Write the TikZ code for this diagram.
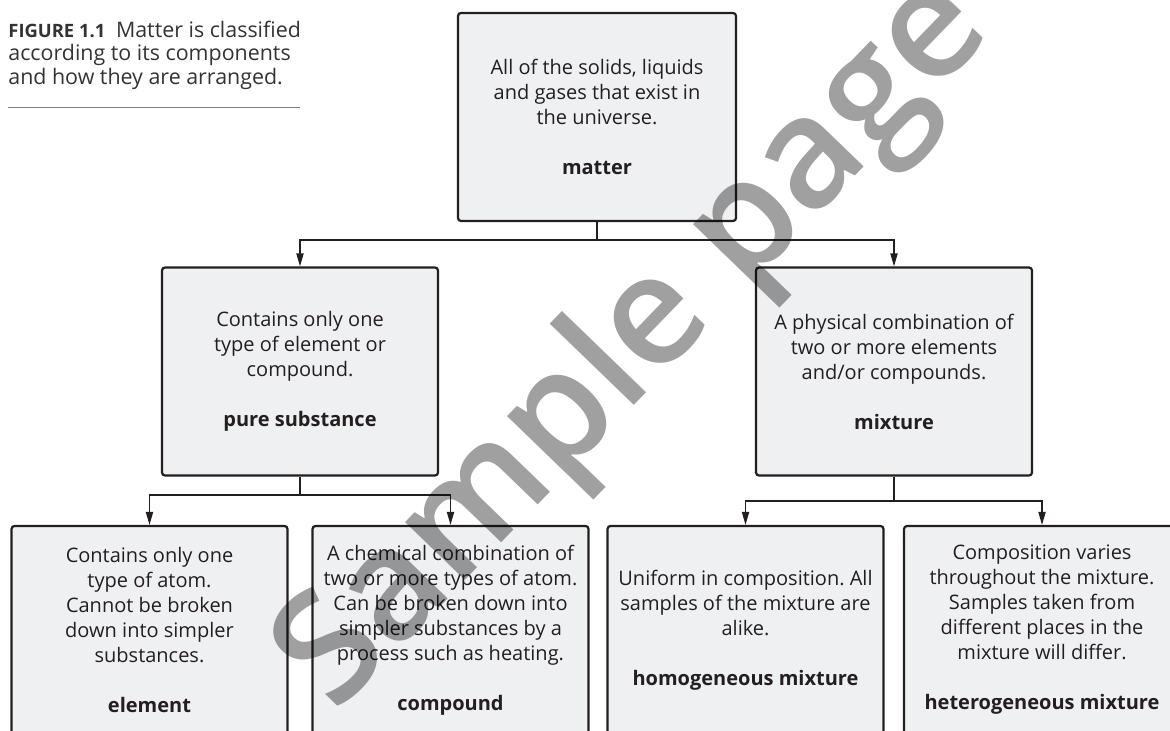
\documentclass[tikz,border=0pt]{standalone}
\usepackage{fontspec}
\setmainfont{Open Sans}
\IfFontExistsTF{Open Sans Semibold}{\newfontfamily\wmfont{Open Sans Semibold}}{%
  \IfFontExistsTF{Open Sans SemiBold}{\newfontfamily\wmfont{Open Sans SemiBold}}{%
    \newcommand\wmfont{\bfseries}}}
\usepackage{tikz}
\usetikzlibrary{calc}
\usetikzlibrary{arrows.meta}
\usetikzlibrary{positioning}
\frenchspacing
\definecolor{boxfill}{HTML}{EFF0F2}
\definecolor{boxline}{HTML}{231F20}
\definecolor{captext}{HTML}{333333}
\definecolor{wmgray}{HTML}{A0A0A0}
\tikzset{classbox/.style={draw=boxline, line width=1.1pt, fill=boxfill,
    rounded corners=1.5pt, minimum width=138pt, minimum height=104pt,
    inner sep=0pt, align=center, text=boxline,
    font=\fontsize{10}{12.5}\selectfont}}
\tikzset{wmark/.style={text=wmgray, inner sep=0pt,
    font=\wmfont\fontsize{77}{77}\selectfont}}

\begin{document}
\begin{tikzpicture}[x=0.5pt, y=-0.5pt]
\tikzstyle{branchedge} = [-{Triangle[width=3.6pt,length=6.5pt]}, line width=0.65pt, draw=boxline]
\useasboundingbox (0,0) rectangle (1170,731);
% caption
\node[anchor=north west, align=left, inner sep=0pt, text=captext,
  font=\fontsize{10.7}{11.6}\selectfont] (caption) at (8,21)
  {{\fontsize{9.2}{11.6}\selectfont\bfseries FIGURE 1.1}\enspace Matter is classified\\
   according to its components\\ and how they are arranged.};
\draw[gray, line width=0.5pt] (8,108) -- (300,108);
% top level
\node[classbox, minimum width=139pt] (matter) at (597,117)
  {All of the solids, liquids\\ and gases that exist in\\ the universe.\\[12.5pt]\textbf{matter}};
\node[classbox] (pure) at (300,371.5)
  {Contains only one\\ type of element or\\ compound.\\[12.5pt]\textbf{pure substance}};
\node[classbox] (mix) at (894,371.5)
  {A physical combination of\\ two or more elements\\ and/or compounds.\\[12.5pt]\textbf{mixture}};
% bottom level
\node[classbox] (element) at (149.5,630)
  {Contains only one\\ type of atom.\\ Cannot be broken\\ down into simpler\\ substances.\\[12.5pt]\textbf{element}};
\node[classbox] (compound) at (450.5,630)
  {A chemical combination of\\ two or more types of atom.\\ Can be broken down into\\ simpler substances by a\\ process such as heating.\\[12.5pt]\textbf{compound}};
\node[classbox] (homo) at (745.5,630)
  {Uniform in composition. All\\ samples of the mixture are\\ alike.\\[12.5pt]\textbf{homogeneous mixture}};
\node[classbox] (hetero) at (1042,630)
  {Composition varies\\ throughout the mixture.\\ Samples taken from\\ different places in the\\ mixture will differ.\\[12.5pt]\textbf{heterogeneous mixture}};
% connectors
\coordinate (split1) at (597,240);
\coordinate (split2) at (300,495);
\coordinate (split3) at (894,501);
\draw[line width=0.65pt, draw=boxline] (matter) -- (split1);
\draw[branchedge] (split1) -| (pure);
\draw[branchedge] (split1) -| (mix);
\draw[line width=0.65pt, draw=boxline] (pure) -- (split2);
\draw[branchedge] (split2) -| (element);
\draw[branchedge] (split2) -| (compound);
\draw[line width=0.65pt, draw=boxline] (mix) -- (split3);
\draw[branchedge] (split3) -| (homo);
\draw[branchedge] (split3) -| (hetero);
% watermark
\begin{scope}[blend mode=multiply]
\node[wmark, rotate=46] (wm) at (636,346) {Sample page};
\end{scope}
\end{tikzpicture}
\end{document}
